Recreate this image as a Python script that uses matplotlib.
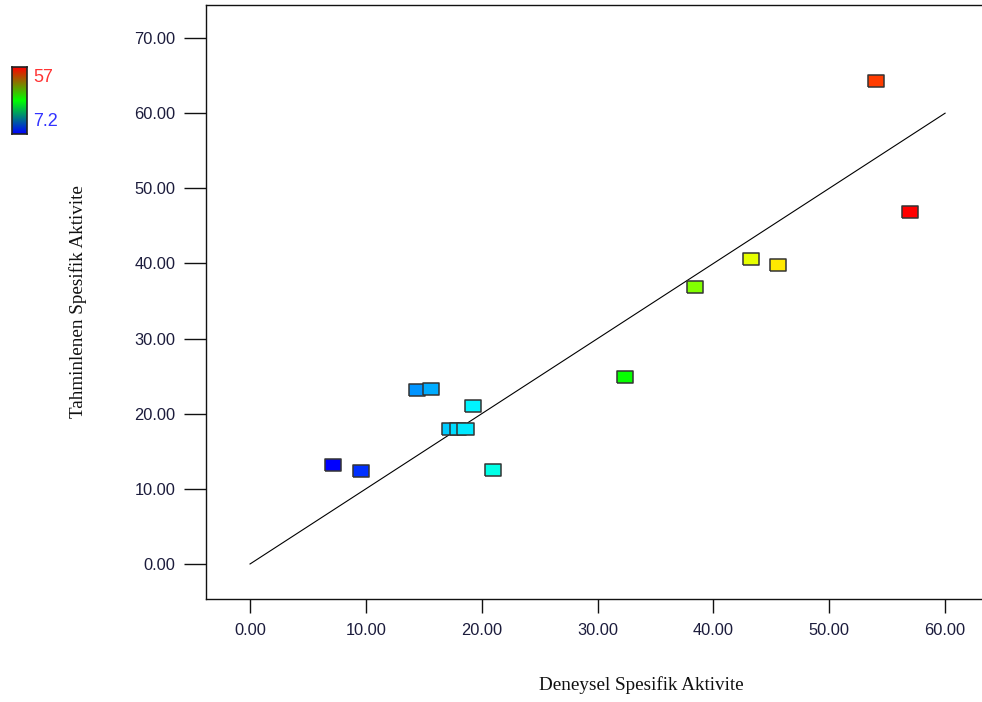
import matplotlib
matplotlib.use("Agg")
import matplotlib.pyplot as plt
import numpy as np
from matplotlib.colors import LinearSegmentedColormap, Normalize

# Data
actual = [7.17, 9.58, 14.42, 15.63, 19.25, 17.31, 17.96, 18.60, 20.98,
          32.37, 38.42, 43.25, 45.58, 54.04, 56.98]
predicted = [13.18, 12.38, 23.16, 23.29, 21.03, 18.0, 18.0, 18.0, 12.51,
             24.89, 36.86, 40.59, 39.79, 64.28, 46.85]
xticks = [0, 10, 20, 30, 40, 50, 60]
yticks = [0, 10, 20, 30, 40, 50, 60, 70]
cmin, cmax = 7.2, 57
xlabel = "Deneysel Spesifik Aktivite"
ylabel = "Tahminlenen Spesifik Aktivite"

W, H = 982, 702
fig = plt.figure(figsize=(W / 100, H / 100), dpi=100)
ax = fig.add_axes([206 / W, 1 - 599 / H, (981 - 206) / W, 594 / H])

pt_cmap = LinearSegmentedColormap.from_list(
    "pts", ["#0000ff", "#00ffff", "#00ff00", "#ffff00", "#ff0000"])
norm = Normalize(cmin, cmax)

# 1:1 line
ax.plot([0, 60], [0, 60], color="black", lw=0.8, zorder=2)

rect = [(-1, -0.74), (1, -0.74), (1, 0.74), (-1, 0.74), (-1, -0.74)]
ax.scatter(actual, predicted, c=actual, cmap=pt_cmap, norm=norm,
           marker=rect, s=12.0 ** 2, edgecolors="#333333", linewidths=1.1,
           zorder=3)

ax.set_xlim(-3.8, 63.1)
ax.set_ylim(-4.66, 74.4)
ax.set_xticks(xticks)
ax.set_yticks(yticks)
ax.set_xticklabels([f"{v:.2f}" for v in xticks])
ax.set_yticklabels([f"{v:.2f}" for v in yticks])
ax.spines["right"].set_visible(False)
for s in ["left", "top", "bottom"]:
    ax.spines[s].set_linewidth(1.0)
    ax.spines[s].set_color("#111111")
ax.tick_params(axis="y", direction="out", length=15.5, width=1.0, pad=6.5,
               labelsize=11.8, labelcolor="#1c1c3c", color="#111111")
ax.tick_params(axis="x", direction="out", length=10, width=1.0, pad=7,
               labelsize=11.8, labelcolor="#1c1c3c", color="#111111")
for lab in ax.get_xticklabels() + ax.get_yticklabels():
    lab.set_family("Liberation Sans")

fig.text(641 / W, 1 - 685 / H, xlabel, ha="center", va="center",
         family="Liberation Serif", fontsize=13.8, color="#111111")
fig.text(78 / W, 1 - 302 / H, ylabel, ha="center", va="center",
         rotation=90, family="Liberation Serif", fontsize=13.8,
         color="#111111")

# Colour legend bar
cax = fig.add_axes([12 / W, 1 - 134 / H, 15 / W, 67 / H])
bar_cmap = LinearSegmentedColormap.from_list("bar", ["#0000ff", "#00ff00", "#ff0000"])
grad = np.linspace(0, 1, 256).reshape(-1, 1)
cax.imshow(grad, aspect="auto", cmap=bar_cmap, origin="lower")
cax.set_xticks([])
cax.set_yticks([])
for s in cax.spines.values():
    s.set_linewidth(1.2)
    s.set_color("#222222")
fig.text(33 / W, 1 - 78 / H, f"{cmax:g}", ha="left", va="center",
         family="Liberation Sans", fontsize=13, color="#ff3333")
fig.text(33 / W, 1 - 121 / H, f"{cmin:g}", ha="left", va="center",
         family="Liberation Sans", fontsize=13, color="#3333ff")

fig.savefig("out.png", dpi=100)
